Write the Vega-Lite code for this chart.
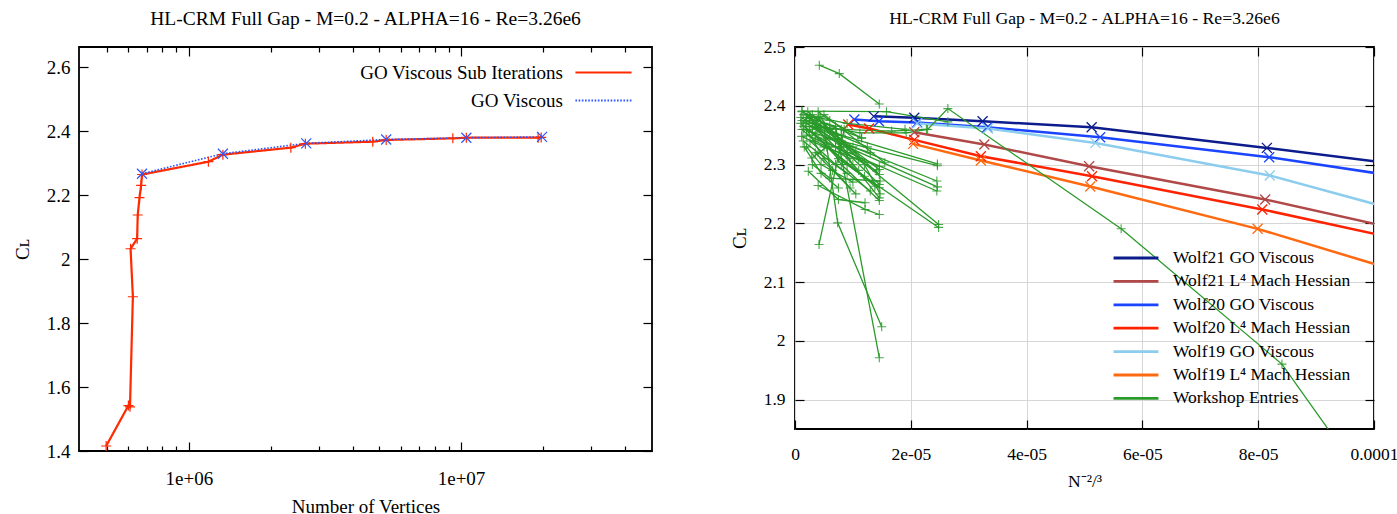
{
  "$schema": "https://vega.github.io/schema/vega-lite/v6.json",
  "background": "white",
  "padding": {"left": 12, "right": 4, "top": 8, "bottom": 0},
  "columns": 2,
  "align": "none",
  "spacing": 75,
  "config": {
    "font": "Liberation Serif",
    "view": {"stroke": "black", "strokeWidth": 1.8},
    "axis": {"domain": false, "labelColor": "black", "titleColor": "black", "tickColor": "black", "tickWidth": 1.2, "titleFontWeight": "normal", "labelFont": "Liberation Serif", "titleFont": "Liberation Serif", "labelFlush": false, "labelOverlap": false},
    "legend": {"labelFont": "Liberation Serif", "labelColor": "black"},
    "title": {"font": "Liberation Serif", "fontWeight": "normal", "color": "black", "frame": "group", "anchor": "middle"}
  },
  "resolve": {"scale": {"color": "independent", "strokeDash": "independent"}, "legend": {"color": "independent", "strokeDash": "independent"}},
  "datasets": {
    "left": [
      {"s": "GO Viscous Sub Iterations", "i": 1, "n": 497000, "cl": 1.4156},
      {"s": "GO Viscous Sub Iterations", "i": 2, "n": 600000, "cl": 1.542},
      {"s": "GO Viscous Sub Iterations", "i": 3, "n": 608000, "cl": 1.538},
      {"s": "GO Viscous Sub Iterations", "i": 4, "n": 623000, "cl": 1.882},
      {"s": "GO Viscous Sub Iterations", "i": 5, "n": 611000, "cl": 2.032},
      {"s": "GO Viscous Sub Iterations", "i": 6, "n": 646000, "cl": 2.0635},
      {"s": "GO Viscous Sub Iterations", "i": 7, "n": 649000, "cl": 2.1375},
      {"s": "GO Viscous Sub Iterations", "i": 8, "n": 659000, "cl": 2.1917},
      {"s": "GO Viscous Sub Iterations", "i": 9, "n": 668000, "cl": 2.23},
      {"s": "GO Viscous Sub Iterations", "i": 10, "n": 673000, "cl": 2.264},
      {"s": "GO Viscous Sub Iterations", "i": 11, "n": 1180000, "cl": 2.304},
      {"s": "GO Viscous Sub Iterations", "i": 12, "n": 1334000, "cl": 2.326},
      {"s": "GO Viscous Sub Iterations", "i": 13, "n": 2370000, "cl": 2.348},
      {"s": "GO Viscous Sub Iterations", "i": 14, "n": 2680000, "cl": 2.3604},
      {"s": "GO Viscous Sub Iterations", "i": 15, "n": 4740000, "cl": 2.3666},
      {"s": "GO Viscous Sub Iterations", "i": 16, "n": 5310000, "cl": 2.372},
      {"s": "GO Viscous Sub Iterations", "i": 17, "n": 9330000, "cl": 2.377},
      {"s": "GO Viscous Sub Iterations", "i": 18, "n": 10460000, "cl": 2.379},
      {"s": "GO Viscous Sub Iterations", "i": 19, "n": 19200000, "cl": 2.379},
      {"s": "GO Viscous Sub Iterations", "i": 20, "n": 19700000, "cl": 2.38},
      {"s": "GO Viscous", "i": 1, "n": 673000, "cl": 2.2665},
      {"s": "GO Viscous", "i": 2, "n": 1334000, "cl": 2.329},
      {"s": "GO Viscous", "i": 3, "n": 2700000, "cl": 2.3615},
      {"s": "GO Viscous", "i": 4, "n": 5310000, "cl": 2.3735},
      {"s": "GO Viscous", "i": 5, "n": 10460000, "cl": 2.379},
      {"s": "GO Viscous", "i": 6, "n": 19850000, "cl": 2.3815}
    ],
    "right": [
      {"g": "Wolf21 GO Viscous", "run": "a", "i": 1, "x": 1.36e-5, "y": 2.382},
      {"g": "Wolf21 GO Viscous", "run": "a", "i": 2, "x": 2.06e-5, "y": 2.3795},
      {"g": "Wolf21 GO Viscous", "run": "a", "i": 3, "x": 3.24e-5, "y": 2.3737},
      {"g": "Wolf21 GO Viscous", "run": "a", "i": 4, "x": 5.124e-5, "y": 2.3635},
      {"g": "Wolf21 GO Viscous", "run": "a", "i": 5, "x": 8.15e-5, "y": 2.3283},
      {"g": "Wolf21 GO Viscous", "run": "a", "i": 6, "x": 1.3e-4, "y": 2.2687},
      {"g": "Wolf21 L⁴ Mach Hessian", "run": "b", "i": 1, "x": 2.06e-5, "y": 2.355},
      {"g": "Wolf21 L⁴ Mach Hessian", "run": "b", "i": 2, "x": 3.27e-5, "y": 2.3341},
      {"g": "Wolf21 L⁴ Mach Hessian", "run": "b", "i": 3, "x": 5.08e-5, "y": 2.2972},
      {"g": "Wolf21 L⁴ Mach Hessian", "run": "b", "i": 4, "x": 8.12e-5, "y": 2.2406},
      {"g": "Wolf21 L⁴ Mach Hessian", "run": "b", "i": 5, "x": 1.3e-4, "y": 2.133},
      {"g": "Wolf20 GO Viscous", "run": "c", "i": 1, "x": 1.025e-5, "y": 2.3766},
      {"g": "Wolf20 GO Viscous", "run": "c", "i": 2, "x": 1.45e-5, "y": 2.3737},
      {"g": "Wolf20 GO Viscous", "run": "c", "i": 3, "x": 2.11e-5, "y": 2.3715},
      {"g": "Wolf20 GO Viscous", "run": "c", "i": 4, "x": 3.32e-5, "y": 2.3635},
      {"g": "Wolf20 GO Viscous", "run": "c", "i": 5, "x": 5.27e-5, "y": 2.3465},
      {"g": "Wolf20 GO Viscous", "run": "c", "i": 6, "x": 8.19e-5, "y": 2.3125},
      {"g": "Wolf20 GO Viscous", "run": "c", "i": 7, "x": 1.3e-4, "y": 2.2416},
      {"g": "Wolf20 L⁴ Mach Hessian", "run": "d", "i": 1, "x": 0.92e-5, "y": 2.368},
      {"g": "Wolf20 L⁴ Mach Hessian", "run": "d", "i": 2, "x": 1.28e-5, "y": 2.3613},
      {"g": "Wolf20 L⁴ Mach Hessian", "run": "d", "i": 3, "x": 2.06e-5, "y": 2.342},
      {"g": "Wolf20 L⁴ Mach Hessian", "run": "d", "i": 4, "x": 3.21e-5, "y": 2.3142},
      {"g": "Wolf20 L⁴ Mach Hessian", "run": "d", "i": 5, "x": 5.13e-5, "y": 2.2802},
      {"g": "Wolf20 L⁴ Mach Hessian", "run": "d", "i": 6, "x": 8.07e-5, "y": 2.2236},
      {"g": "Wolf20 L⁴ Mach Hessian", "run": "d", "i": 7, "x": 1.3e-4, "y": 2.1176},
      {"g": "Wolf19 GO Viscous", "run": "e", "i": 1, "x": 2.11e-5, "y": 2.37},
      {"g": "Wolf19 GO Viscous", "run": "e", "i": 2, "x": 3.33e-5, "y": 2.3613},
      {"g": "Wolf19 GO Viscous", "run": "e", "i": 3, "x": 5.19e-5, "y": 2.3368},
      {"g": "Wolf19 GO Viscous", "run": "e", "i": 4, "x": 8.2e-5, "y": 2.2814},
      {"g": "Wolf19 GO Viscous", "run": "e", "i": 5, "x": 1.3e-4, "y": 2.1526},
      {"g": "Wolf19 L⁴ Mach Hessian", "run": "f", "i": 1, "x": 2.04e-5, "y": 2.3351},
      {"g": "Wolf19 L⁴ Mach Hessian", "run": "f", "i": 2, "x": 3.21e-5, "y": 2.3069},
      {"g": "Wolf19 L⁴ Mach Hessian", "run": "f", "i": 3, "x": 5.1e-5, "y": 2.2627},
      {"g": "Wolf19 L⁴ Mach Hessian", "run": "f", "i": 4, "x": 7.99e-5, "y": 2.1906},
      {"g": "Wolf19 L⁴ Mach Hessian", "run": "f", "i": 5, "x": 1.3e-4, "y": 2.042},
      {"g": "Workshop Entries", "run": "w1", "i": 1, "x": 0.42e-5, "y": 2.469},
      {"g": "Workshop Entries", "run": "w1", "i": 2, "x": 0.765e-5, "y": 2.4547},
      {"g": "Workshop Entries", "run": "w1", "i": 3, "x": 1.456e-5, "y": 2.403},
      {"g": "Workshop Entries", "run": "w2", "i": 1, "x": 0.12e-5, "y": 2.391},
      {"g": "Workshop Entries", "run": "w2", "i": 2, "x": 1.58e-5, "y": 2.39},
      {"g": "Workshop Entries", "run": "w2", "i": 3, "x": 2.64e-5, "y": 2.3726},
      {"g": "Workshop Entries", "run": "w3", "i": 1, "x": 10.0e-5, "y": 1.74},
      {"g": "Workshop Entries", "run": "w3", "i": 2, "x": 8.41e-5, "y": 1.9604},
      {"g": "Workshop Entries", "run": "w3", "i": 3, "x": 5.633e-5, "y": 2.1908},
      {"g": "Workshop Entries", "run": "w3", "i": 4, "x": 2.64e-5, "y": 2.3952},
      {"g": "Workshop Entries", "run": "w3", "i": 5, "x": 2.29e-5, "y": 2.3596},
      {"g": "Workshop Entries", "run": "w3", "i": 6, "x": 1.92e-5, "y": 2.354},
      {"g": "Workshop Entries", "run": "w3", "i": 7, "x": 1.12e-5, "y": 2.354},
      {"g": "Workshop Entries", "run": "w3", "i": 8, "x": 0.45e-5, "y": 2.365},
      {"g": "Workshop Entries", "run": "w4", "i": 1, "x": 0.2e-5, "y": 2.375},
      {"g": "Workshop Entries", "run": "w4", "i": 2, "x": 0.8e-5, "y": 2.35},
      {"g": "Workshop Entries", "run": "w4", "i": 3, "x": 2.46e-5, "y": 2.301},
      {"g": "Workshop Entries", "run": "w5", "i": 1, "x": 0.15e-5, "y": 2.36},
      {"g": "Workshop Entries", "run": "w5", "i": 2, "x": 0.6e-5, "y": 2.345},
      {"g": "Workshop Entries", "run": "w5", "i": 3, "x": 2.46e-5, "y": 2.298},
      {"g": "Workshop Entries", "run": "w6", "i": 1, "x": 0.25e-5, "y": 2.38},
      {"g": "Workshop Entries", "run": "w6", "i": 2, "x": 1.0e-5, "y": 2.33},
      {"g": "Workshop Entries", "run": "w6", "i": 3, "x": 2.45e-5, "y": 2.272},
      {"g": "Workshop Entries", "run": "w7", "i": 1, "x": 0.3e-5, "y": 2.365},
      {"g": "Workshop Entries", "run": "w7", "i": 2, "x": 0.9e-5, "y": 2.33},
      {"g": "Workshop Entries", "run": "w7", "i": 3, "x": 2.46e-5, "y": 2.262},
      {"g": "Workshop Entries", "run": "w8", "i": 1, "x": 0.2e-5, "y": 2.35},
      {"g": "Workshop Entries", "run": "w8", "i": 2, "x": 0.7e-5, "y": 2.33},
      {"g": "Workshop Entries", "run": "w8", "i": 3, "x": 2.45e-5, "y": 2.255},
      {"g": "Workshop Entries", "run": "w9", "i": 1, "x": 0.35e-5, "y": 2.375},
      {"g": "Workshop Entries", "run": "w9", "i": 2, "x": 1.1e-5, "y": 2.31},
      {"g": "Workshop Entries", "run": "w9", "i": 3, "x": 2.48e-5, "y": 2.198},
      {"g": "Workshop Entries", "run": "w10", "i": 1, "x": 0.3e-5, "y": 2.355},
      {"g": "Workshop Entries", "run": "w10", "i": 2, "x": 0.9e-5, "y": 2.3},
      {"g": "Workshop Entries", "run": "w10", "i": 3, "x": 2.48e-5, "y": 2.193},
      {"g": "Workshop Entries", "run": "w11", "i": 1, "x": 0.115e-5, "y": 2.348},
      {"g": "Workshop Entries", "run": "w11", "i": 2, "x": 0.5e-5, "y": 2.33},
      {"g": "Workshop Entries", "run": "w11", "i": 3, "x": 1.456e-5, "y": 2.297},
      {"g": "Workshop Entries", "run": "w12", "i": 1, "x": 0.3e-5, "y": 2.37},
      {"g": "Workshop Entries", "run": "w12", "i": 2, "x": 0.8e-5, "y": 2.34},
      {"g": "Workshop Entries", "run": "w12", "i": 3, "x": 1.456e-5, "y": 2.2915},
      {"g": "Workshop Entries", "run": "w13", "i": 1, "x": 0.2e-5, "y": 2.38},
      {"g": "Workshop Entries", "run": "w13", "i": 2, "x": 0.7e-5, "y": 2.35},
      {"g": "Workshop Entries", "run": "w13", "i": 3, "x": 1.456e-5, "y": 2.283},
      {"g": "Workshop Entries", "run": "w14", "i": 1, "x": 0.4e-5, "y": 2.38},
      {"g": "Workshop Entries", "run": "w14", "i": 2, "x": 0.9e-5, "y": 2.32},
      {"g": "Workshop Entries", "run": "w14", "i": 3, "x": 1.456e-5, "y": 2.266},
      {"g": "Workshop Entries", "run": "w15", "i": 1, "x": 0.25e-5, "y": 2.36},
      {"g": "Workshop Entries", "run": "w15", "i": 2, "x": 0.75e-5, "y": 2.31},
      {"g": "Workshop Entries", "run": "w15", "i": 3, "x": 1.456e-5, "y": 2.2604},
      {"g": "Workshop Entries", "run": "w16", "i": 1, "x": 0.43e-5, "y": 2.382},
      {"g": "Workshop Entries", "run": "w16", "i": 2, "x": 1.0e-5, "y": 2.3},
      {"g": "Workshop Entries", "run": "w16", "i": 3, "x": 1.456e-5, "y": 2.2433},
      {"g": "Workshop Entries", "run": "w17", "i": 1, "x": 0.26e-5, "y": 2.382},
      {"g": "Workshop Entries", "run": "w17", "i": 2, "x": 0.8e-5, "y": 2.3},
      {"g": "Workshop Entries", "run": "w17", "i": 3, "x": 1.456e-5, "y": 2.2388},
      {"g": "Workshop Entries", "run": "w18", "i": 1, "x": 0.4e-5, "y": 2.2643},
      {"g": "Workshop Entries", "run": "w18", "i": 2, "x": 1.21e-5, "y": 2.2236},
      {"g": "Workshop Entries", "run": "w18", "i": 3, "x": 1.456e-5, "y": 2.215},
      {"g": "Workshop Entries", "run": "w19", "i": 1, "x": 0.2e-5, "y": 2.38},
      {"g": "Workshop Entries", "run": "w19", "i": 2, "x": 0.7e-5, "y": 2.365},
      {"g": "Workshop Entries", "run": "w19", "i": 3, "x": 1.456e-5, "y": 1.9713},
      {"g": "Workshop Entries", "run": "w20", "i": 1, "x": 0.51e-5, "y": 2.357},
      {"g": "Workshop Entries", "run": "w20", "i": 2, "x": 0.737e-5, "y": 2.2008},
      {"g": "Workshop Entries", "run": "w20", "i": 3, "x": 1.497e-5, "y": 2.024},
      {"g": "Workshop Entries", "run": "w21", "i": 1, "x": 0.415e-5, "y": 2.164},
      {"g": "Workshop Entries", "run": "w21", "i": 2, "x": 0.85e-5, "y": 2.36},
      {"g": "Workshop Entries", "run": "w22", "i": 1, "x": 0.12e-5, "y": 2.39},
      {"g": "Workshop Entries", "run": "w22", "i": 2, "x": 0.5e-5, "y": 2.37},
      {"g": "Workshop Entries", "run": "w22", "i": 3, "x": 1.15e-5, "y": 2.3454},
      {"g": "Workshop Entries", "run": "w23", "i": 1, "x": 0.15e-5, "y": 2.385},
      {"g": "Workshop Entries", "run": "w23", "i": 2, "x": 0.9e-5, "y": 2.37},
      {"g": "Workshop Entries", "run": "w23", "i": 3, "x": 1.9e-5, "y": 2.36},
      {"g": "Workshop Entries", "run": "w24", "i": 1, "x": 0.23e-5, "y": 2.2887},
      {"g": "Workshop Entries", "run": "w24", "i": 2, "x": 0.75e-5, "y": 2.2405},
      {"g": "Workshop Entries", "run": "w24", "i": 3, "x": 1.21e-5, "y": 2.235},
      {"g": "Workshop Entries", "run": "w25", "i": 1, "x": 0.1e-5, "y": 2.37},
      {"g": "Workshop Entries", "run": "w25", "i": 2, "x": 0.45e-5, "y": 2.34},
      {"g": "Workshop Entries", "run": "w25", "i": 3, "x": 1.38e-5, "y": 2.263},
      {"g": "Workshop Entries", "run": "w26", "i": 1, "x": 0.3e-5, "y": 2.3},
      {"g": "Workshop Entries", "run": "w26", "i": 2, "x": 0.6e-5, "y": 2.277},
      {"g": "Workshop Entries", "run": "w26", "i": 3, "x": 1.47e-5, "y": 2.272},
      {"g": "Workshop Entries", "run": "w27", "i": 1, "x": 0.5e-5, "y": 2.385},
      {"g": "Workshop Entries", "run": "w27", "i": 2, "x": 1.55e-5, "y": 2.303},
      {"g": "Workshop Entries", "run": "w28", "i": 1, "x": 0.35e-5, "y": 2.35},
      {"g": "Workshop Entries", "run": "w28", "i": 2, "x": 1.41e-5, "y": 2.289},
      {"g": "Workshop Entries", "run": "w29", "i": 1, "x": 0.6e-5, "y": 2.36},
      {"g": "Workshop Entries", "run": "w29", "i": 2, "x": 1.2e-5, "y": 2.3},
      {"g": "Workshop Entries", "run": "w29", "i": 3, "x": 1.47e-5, "y": 2.25},
      {"g": "Workshop Entries", "run": "w30", "i": 1, "x": 0.2e-5, "y": 2.33},
      {"g": "Workshop Entries", "run": "w30", "i": 2, "x": 0.45e-5, "y": 2.3},
      {"g": "Workshop Entries", "run": "w30", "i": 3, "x": 1.0e-5, "y": 2.27},
      {"g": "Workshop Entries", "run": "w31", "i": 1, "x": 0.15e-5, "y": 2.365},
      {"g": "Workshop Entries", "run": "w31", "i": 2, "x": 0.8e-5, "y": 2.36},
      {"g": "Workshop Entries", "run": "w31", "i": 3, "x": 1.67e-5, "y": 2.357},
      {"g": "Workshop Entries", "run": "w31", "i": 4, "x": 2.27e-5, "y": 2.36},
      {"g": "Workshop Entries", "run": "w32", "i": 1, "x": 0.29e-5, "y": 2.311},
      {"g": "Workshop Entries", "run": "w32", "i": 2, "x": 0.55e-5, "y": 2.33},
      {"g": "Workshop Entries", "run": "w32", "i": 3, "x": 1.2e-5, "y": 2.28},
      {"g": "Workshop Entries", "run": "w33", "i": 1, "x": 0.12e-5, "y": 2.3595},
      {"g": "Workshop Entries", "run": "w33", "i": 2, "x": 0.35e-5, "y": 2.34},
      {"g": "Workshop Entries", "run": "w33", "i": 3, "x": 0.95e-5, "y": 2.31},
      {"g": "Workshop Entries", "run": "w34", "i": 1, "x": 0.4e-5, "y": 2.39},
      {"g": "Workshop Entries", "run": "w34", "i": 2, "x": 0.6e-5, "y": 2.375},
      {"g": "Workshop Entries", "run": "w34", "i": 3, "x": 1.15e-5, "y": 2.345},
      {"g": "Workshop Entries", "run": "w35", "i": 1, "x": 0.1e-5, "y": 2.38},
      {"g": "Workshop Entries", "run": "w35", "i": 2, "x": 0.3e-5, "y": 2.37},
      {"g": "Workshop Entries", "run": "w35", "i": 3, "x": 0.8e-5, "y": 2.33},
      {"g": "Workshop Entries", "run": "w36", "i": 1, "x": 0.18e-5, "y": 2.372},
      {"g": "Workshop Entries", "run": "w36", "i": 2, "x": 0.55e-5, "y": 2.345},
      {"g": "Workshop Entries", "run": "w36", "i": 3, "x": 1.3e-5, "y": 2.32},
      {"g": "Workshop Entries", "run": "w37", "i": 1, "x": 0.22e-5, "y": 2.39},
      {"g": "Workshop Entries", "run": "w37", "i": 2, "x": 0.6e-5, "y": 2.36},
      {"g": "Workshop Entries", "run": "w37", "i": 3, "x": 1.05e-5, "y": 2.32},
      {"g": "Workshop Entries", "run": "w38", "i": 1, "x": 0.14e-5, "y": 2.34},
      {"g": "Workshop Entries", "run": "w38", "i": 2, "x": 0.4e-5, "y": 2.32},
      {"g": "Workshop Entries", "run": "w38", "i": 3, "x": 0.9e-5, "y": 2.285},
      {"g": "Workshop Entries", "run": "w39", "i": 1, "x": 0.3e-5, "y": 2.385},
      {"g": "Workshop Entries", "run": "w39", "i": 2, "x": 0.65e-5, "y": 2.355},
      {"g": "Workshop Entries", "run": "w39", "i": 3, "x": 1.25e-5, "y": 2.33},
      {"g": "Workshop Entries", "run": "w40", "i": 1, "x": 0.26e-5, "y": 2.34},
      {"g": "Workshop Entries", "run": "w40", "i": 2, "x": 0.7e-5, "y": 2.3},
      {"g": "Workshop Entries", "run": "w40", "i": 3, "x": 1.3e-5, "y": 2.255},
      {"g": "Workshop Entries", "run": "w41", "i": 1, "x": 0.12e-5, "y": 2.375},
      {"g": "Workshop Entries", "run": "w41", "i": 2, "x": 0.38e-5, "y": 2.36},
      {"g": "Workshop Entries", "run": "w41", "i": 3, "x": 0.7e-5, "y": 2.33},
      {"g": "Workshop Entries", "run": "w41", "i": 4, "x": 1.1e-5, "y": 2.29},
      {"g": "Workshop Entries", "run": "w42", "i": 1, "x": 0.2e-5, "y": 2.36},
      {"g": "Workshop Entries", "run": "w42", "i": 2, "x": 0.5e-5, "y": 2.31},
      {"g": "Workshop Entries", "run": "w42", "i": 3, "x": 0.95e-5, "y": 2.26},
      {"g": "Workshop Entries", "run": "w43", "i": 1, "x": 0.35e-5, "y": 2.32},
      {"g": "Workshop Entries", "run": "w43", "i": 2, "x": 0.65e-5, "y": 2.29},
      {"g": "Workshop Entries", "run": "w43", "i": 3, "x": 1.05e-5, "y": 2.25},
      {"g": "Workshop Entries", "run": "w44", "i": 1, "x": 0.16e-5, "y": 2.33},
      {"g": "Workshop Entries", "run": "w44", "i": 2, "x": 0.45e-5, "y": 2.285},
      {"g": "Workshop Entries", "run": "w44", "i": 3, "x": 0.75e-5, "y": 2.26}
    ]
  },
  "concat": [
    {
      "width": 573,
      "height": 404,
      "title": {"text": "HL-CRM Full Gap - M=0.2 - ALPHA=16 - Re=3.26e6", "fontSize": 19.5, "offset": 17},
      "data": {"name": "left"},
      "resolve": {"axis": {"x": "independent", "y": "independent"}},
      "layer": [
        {
          "transform": [{"filter": "datum.s === 'GO Viscous Sub Iterations'"}],
          "mark": {"type": "line", "strokeWidth": 2.2, "clip": true},
          "encoding": {
            "x": {"field": "n", "type": "quantitative", "scale": {"type": "log", "domain": [395000, 50300000], "nice": false},
              "axis": {"orient": "bottom", "values": [500000, 600000, 700000, 800000, 900000, 1000000, 2000000, 3000000, 4000000, 5000000, 6000000, 7000000, 8000000, 9000000, 10000000, 20000000, 30000000, 40000000],
                "labelExpr": "datum.value == 1000000 ? '1e+06' : (datum.value == 10000000 ? '1e+07' : '')",
                "tickSize": {"condition": {"test": "datum.value == 1000000 || datum.value == 10000000", "value": -9}, "value": -5},
                "labelPadding": 27, "labelFontSize": 19, "title": "Number of Vertices", "titleFontSize": 19, "titlePadding": 5, "grid": false}},
            "y": {"field": "cl", "type": "quantitative", "scale": {"domain": [1.4, 2.6625], "zero": false, "nice": false},
              "axis": {"orient": "left", "values": [1.4, 1.6, 1.8, 2, 2.2, 2.4, 2.6], "format": "~g", "tickSize": -9, "labelPadding": 18, "labelFontSize": 19, "title": "Cʟ", "titleFontSize": 19, "titlePadding": 14, "grid": false}},
            "color": {"field": "s", "type": "nominal", "scale": {"domain": ["GO Viscous Sub Iterations", "GO Viscous"], "range": ["#ff2a00", "#2a55ff"]},
              "legend": {"title": null, "orient": "none", "legendX": 514, "legendY": 15, "labelFontSize": 19, "labelAlign": "right", "labelOffset": -51, "symbolSize": 350, "symbolStrokeWidth": 2, "rowPadding": 7, "labelLimit": 400, "symbolType": "M-3,0H3"}},
            "strokeDash": {"field": "s", "type": "nominal", "scale": {"domain": ["GO Viscous Sub Iterations", "GO Viscous"], "range": [[1, 0], [1.6, 1.6]]}},
            "order": {"field": "i", "type": "quantitative"}
          }
        },
        {
          "transform": [{"filter": "datum.s === 'GO Viscous'"}],
          "mark": {"type": "line", "strokeWidth": 1.6, "clip": true},
          "encoding": {
            "x": {"field": "n", "type": "quantitative", "axis": null},
            "y": {"field": "cl", "type": "quantitative", "axis": null},
            "color": {"field": "s", "type": "nominal"},
            "strokeDash": {"field": "s", "type": "nominal"},
            "order": {"field": "i", "type": "quantitative"}
          }
        },
        {
          "mark": {"type": "point", "filled": false, "strokeWidth": 1.2, "size": 100, "opacity": 1, "clip": true},
          "encoding": {
            "x": {"field": "n", "type": "quantitative", "axis": {"orient": "top", "values": [500000, 600000, 700000, 800000, 900000, 1000000, 2000000, 3000000, 4000000, 5000000, 6000000, 7000000, 8000000, 9000000, 10000000, 20000000, 30000000, 40000000], "labels": false, "title": null, "grid": false,
              "tickSize": {"condition": {"test": "datum.value == 1000000 || datum.value == 10000000", "value": -9}, "value": -5}}},
            "y": {"field": "cl", "type": "quantitative", "axis": {"orient": "right", "values": [1.4, 1.6, 1.8, 2, 2.2, 2.4, 2.6], "labels": false, "title": null, "grid": false, "tickSize": -9}},
            "color": {"field": "s", "type": "nominal", "legend": null},
            "shape": {"condition": {"test": "datum.s === 'GO Viscous'", "value": "M-1,-1L1,1M-1,1L1,-1"}, "value": "M-1,0H1M0,-1V1"}
          }
        }
      ]
    },
    {
      "width": 579,
      "height": 382,
      "title": {"text": "HL-CRM Full Gap - M=0.2 - ALPHA=16 - Re=3.26e6", "fontSize": 17.7, "offset": 10},
      "data": {"name": "right"},
      "resolve": {"axis": {"x": "independent", "y": "independent"}},
      "layer": [
        {
          "transform": [{"filter": "datum.g !== 'Workshop Entries'"}],
          "mark": {"type": "line", "strokeWidth": 2.5, "clip": true},
          "encoding": {
            "x": {"field": "x", "type": "quantitative", "scale": {"domain": [0, 0.0001], "nice": false, "zero": false},
              "axis": {"orient": "bottom", "values": [0, 0.00002, 0.00004, 0.00006, 0.00008, 0.0001],
                "labelExpr": "datum.value == 0 ? '0' : (datum.value > 0.00009 ? '0.0001' : replace(format(datum.value, '.0e'), 'e-', 'e-0'))",
                "tickSize": -9, "labelPadding": 25, "labelFontSize": 17.5, "title": "N⁻²/³", "titleFontSize": 17.5, "titlePadding": 10, "grid": true, "gridColor": "#d6d6d6", "gridWidth": 1}},
            "y": {"field": "y", "type": "quantitative", "scale": {"domain": [1.85, 2.5], "zero": false, "nice": false},
              "axis": {"orient": "left", "values": [1.9, 2, 2.1, 2.2, 2.3, 2.4, 2.5], "format": "~g", "tickSize": -9, "labelPadding": 19, "labelFontSize": 17.5, "title": "Cʟ", "titleFontSize": 19, "titlePadding": 14, "grid": true, "gridColor": "#d6d6d6", "gridWidth": 1}},
            "color": {"field": "g", "type": "nominal",
              "scale": {"domain": ["Wolf21 GO Viscous", "Wolf21 L⁴ Mach Hessian", "Wolf20 GO Viscous", "Wolf20 L⁴ Mach Hessian", "Wolf19 GO Viscous", "Wolf19 L⁴ Mach Hessian", "Workshop Entries"],
                "range": ["#0c1c8c", "#b04848", "#1a44ff", "#ff2200", "#8ccdee", "#ff6a10", "#2a9a2a"]},
              "legend": {"title": null, "orient": "none", "legendX": 330, "legendY": 200, "labelFontSize": 17.5, "labelOffset": 26, "symbolType": "M-2.4,0H2.4", "symbolSize": 350, "symbolStrokeWidth": 2.8, "rowPadding": 3.4, "labelLimit": 400}},
            "order": {"field": "i", "type": "quantitative"}
          }
        },
        {
          "transform": [{"filter": "datum.g === 'Workshop Entries'"}],
          "mark": {"type": "line", "strokeWidth": 1.3, "clip": true},
          "encoding": {
            "x": {"field": "x", "type": "quantitative", "axis": null},
            "y": {"field": "y", "type": "quantitative", "axis": null},
            "color": {"field": "g", "type": "nominal"},
            "detail": {"field": "run", "type": "nominal"},
            "order": {"field": "i", "type": "quantitative"}
          }
        },
        {
          "mark": {"type": "point", "filled": false, "clip": true},
          "encoding": {
            "x": {"field": "x", "type": "quantitative", "axis": {"orient": "top", "values": [0, 0.00002, 0.00004, 0.00006, 0.00008, 0.0001], "labels": false, "title": null, "grid": false, "tickSize": -9}},
            "y": {"field": "y", "type": "quantitative", "axis": {"orient": "right", "values": [1.9, 2, 2.1, 2.2, 2.3, 2.4, 2.5], "labels": false, "title": null, "grid": false, "tickSize": -9}},
            "color": {"field": "g", "type": "nominal", "legend": null},
            "shape": {"condition": {"test": "datum.g === 'Workshop Entries'", "value": "M-1,0H1M0,-1V1"}, "value": "M-1,-1L1,1M-1,1L1,-1"},
            "size": {"condition": {"test": "datum.g === 'Workshop Entries'", "value": 81}, "value": 100},
            "strokeWidth": {"condition": {"test": "datum.g === 'Workshop Entries'", "value": 1.1}, "value": 1.3},
            "opacity": {"condition": {"test": "datum.g === 'Workshop Entries'", "value": 0.85}, "value": 1}
          }
        }
      ]
    }
  ]
}
